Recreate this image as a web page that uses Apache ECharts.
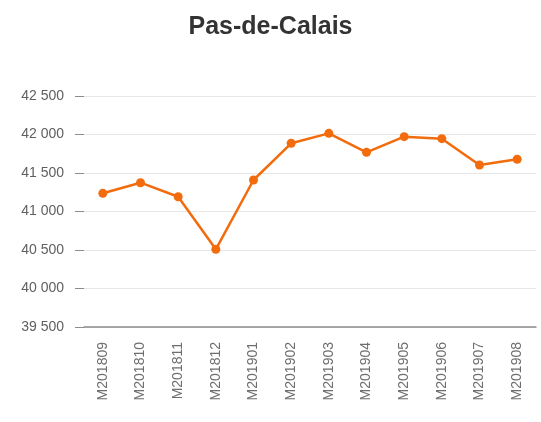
<!DOCTYPE html>
<html>
<head>
<meta charset="utf-8">
<script src="https://cdn.jsdelivr.net/npm/echarts@6/dist/echarts.min.js"></script>
<style>
  html, body { margin: 0; padding: 0; background: #fff; }
  #chart { width: 541px; height: 422px; }
</style>
</head>
<body>
<div id="chart"></div>
<script>
var months = ["M201809", "M201810", "M201811", "M201812", "M201901", "M201902",
  "M201903", "M201904", "M201905", "M201906", "M201907", "M201908"];
var values = [41236, 41374, 41192, 40509, 41409, 41886, 42015, 41768, 41972, 41946, 41604, 41678];
var yMin = 39500;
var yMax = 42500;
var yStep = 500;

function fmt(v) {
  return String(v).replace(/\B(?=(\d{3})+(?!\d))/g, " ");
}

var chart = echarts.init(document.getElementById("chart"));
chart.setOption({
  animation: false,
  textStyle: { fontFamily: "Liberation Sans, Arial, sans-serif" },
  title: {
    text: "Pas-de-Calais",
    left: "center",
    top: 10,
    textStyle: { fontSize: 25, fontWeight: "bold", color: "#333333" }
  },
  grid: { left: 84, right: 5, top: 96, bottom: 95 },
  xAxis: {
    type: "category",
    data: months,
    boundaryGap: true,
    axisLine: { lineStyle: { color: "#8c8c8c", width: 1.5 } },
    axisTick: { alignWithLabel: true, length: 6, lineStyle: { color: "#8c8c8c" } },
    axisLabel: { rotate: 90, margin: 15, fontSize: 14, color: "#6e6e6e" }
  },
  yAxis: {
    type: "value",
    min: yMin,
    max: yMax,
    interval: yStep,
    axisLine: { show: false },
    axisTick: { show: true, length: 9, lineStyle: { color: "#8c8c8c" } },
    axisLabel: { margin: 20, fontSize: 14, color: "#606060", formatter: fmt },
    splitLine: { lineStyle: { color: "#e6e6e6" } }
  },
  series: [{
    type: "line",
    data: values,
    color: "#f26c0d",
    lineStyle: { width: 2.5 },
    symbol: "circle",
    symbolSize: 9
  }]
});
</script>
</body>
</html>
